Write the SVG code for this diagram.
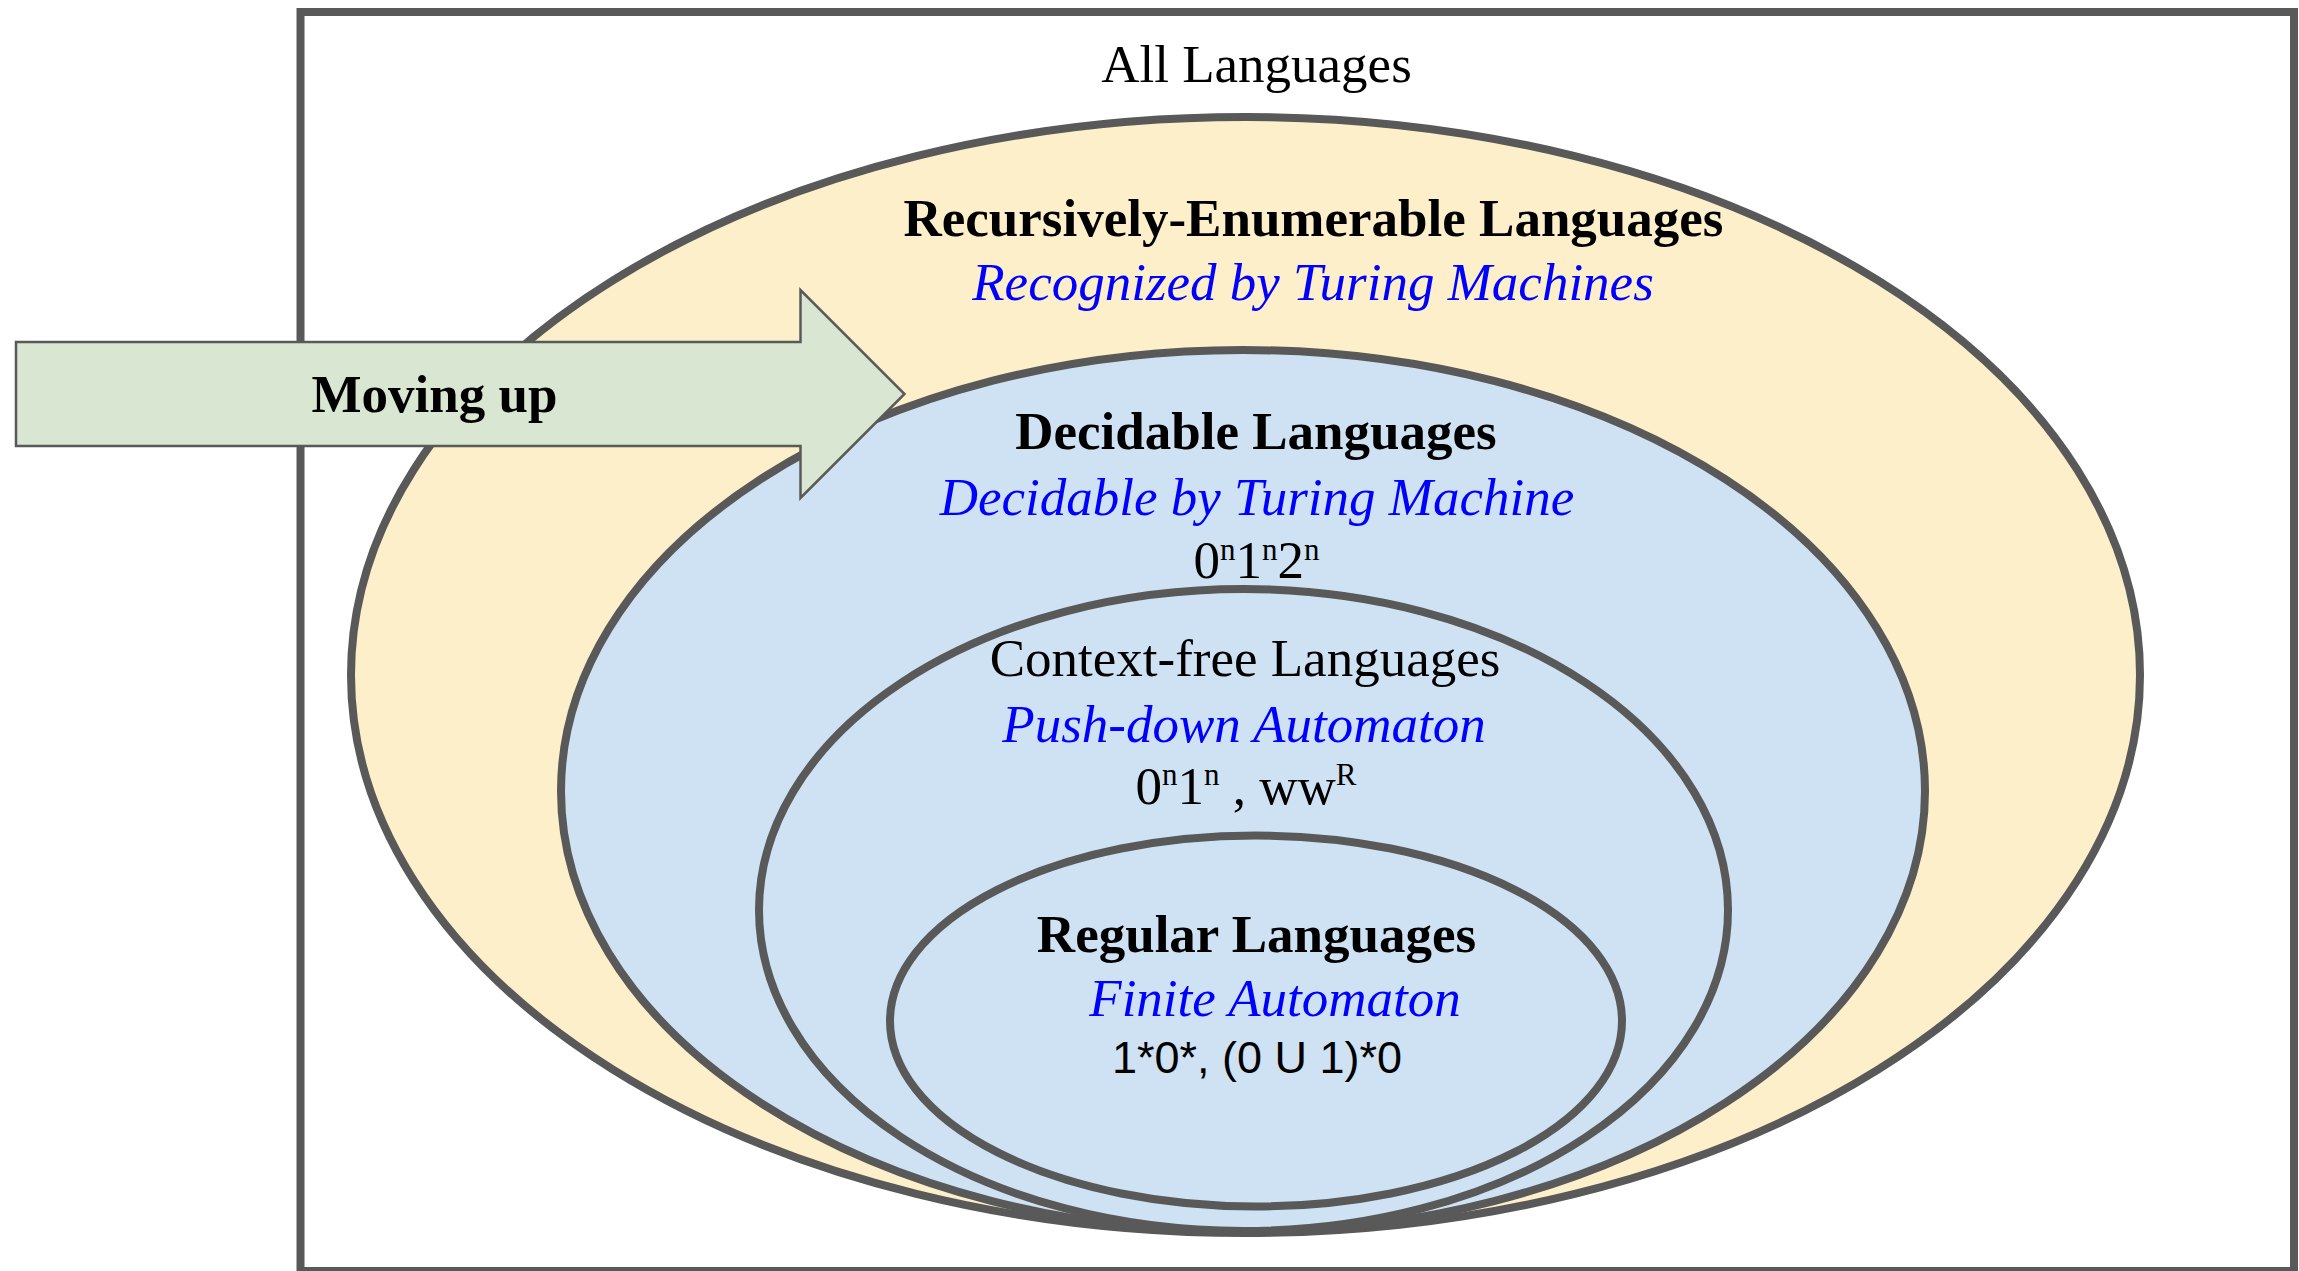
<svg xmlns="http://www.w3.org/2000/svg" width="2299" height="1271" viewBox="0 0 2299 1271">
  <style>
    .ring { stroke: #595959; stroke-width: 8; }
    .yellow { fill: #fcefc9; }
    .blue { fill: #cfe2f3; }
    .t { font-family: "Liberation Serif", "Times New Roman", serif; font-size: 53px; text-anchor: middle; fill: #000000; }
    .b { font-weight: bold; }
    .i { font-style: italic; fill: #0000ff; }
    .sup { font-size: 31px; }
    .sans { font-family: "Liberation Sans", Arial, sans-serif; font-size: 45px; text-anchor: middle; fill: #000000; }
  </style>

  <g id="all-languages">
    <rect x="300.5" y="12" width="1993.5" height="1259" fill="#ffffff" stroke="#595959" stroke-width="8"/>
    <text class="t" x="1256.5" y="82">All Languages</text>
  </g>

  <g id="recursively-enumerable">
    <ellipse class="ring yellow" cx="1245.5" cy="675" rx="894.5" ry="558"/>
    <text class="t b" x="1313.5" y="236">Recursively-Enumerable Languages</text>
    <text class="t i" x="1313" y="300">Recognized by Turing Machines</text>
  </g>

  <g id="decidable">
    <ellipse class="ring blue" cx="1243" cy="791" rx="682" ry="441"/>
    <text class="t b" x="1256" y="449">Decidable Languages</text>
    <text class="t i" x="1257" y="515">Decidable by Turing Machine</text>
    <text class="t" x="1256.5" y="578">0<tspan class="sup" dy="-18">n</tspan><tspan dy="18">1</tspan><tspan class="sup" dy="-18">n</tspan><tspan dy="18">2</tspan><tspan class="sup" dy="-18">n</tspan></text>
  </g>

  <g id="context-free">
    <ellipse class="ring blue" cx="1243.5" cy="910" rx="484.5" ry="321"/>
    <text class="t" x="1245" y="676">Context-free Languages</text>
    <text class="t i" x="1244" y="742">Push-down Automaton</text>
    <text class="t" x="1246" y="804">0<tspan class="sup" dy="-19">n</tspan><tspan dy="19">1</tspan><tspan class="sup" dy="-19">n</tspan><tspan dy="19"> , ww</tspan><tspan class="sup" dy="-19">R</tspan></text>
  </g>

  <g id="regular">
    <ellipse class="ring blue" cx="1256" cy="1021" rx="366" ry="185.5"/>
    <text class="t b" x="1256.5" y="952">Regular Languages</text>
    <text class="t i" x="1275" y="1016">Finite Automaton</text>
    <text class="sans" x="1257" y="1073">1*0*, (0 U 1)*0</text>
  </g>

  <g id="moving-up">
    <polygon points="16,342 800.5,342 800.5,290 904.5,394 800.5,498 800.5,446 16,446" fill="#d9e6d2" stroke="#595959" stroke-width="2.5" stroke-linejoin="miter"/>
    <text class="t b" x="434.5" y="412">Moving up</text>
  </g>
</svg>
